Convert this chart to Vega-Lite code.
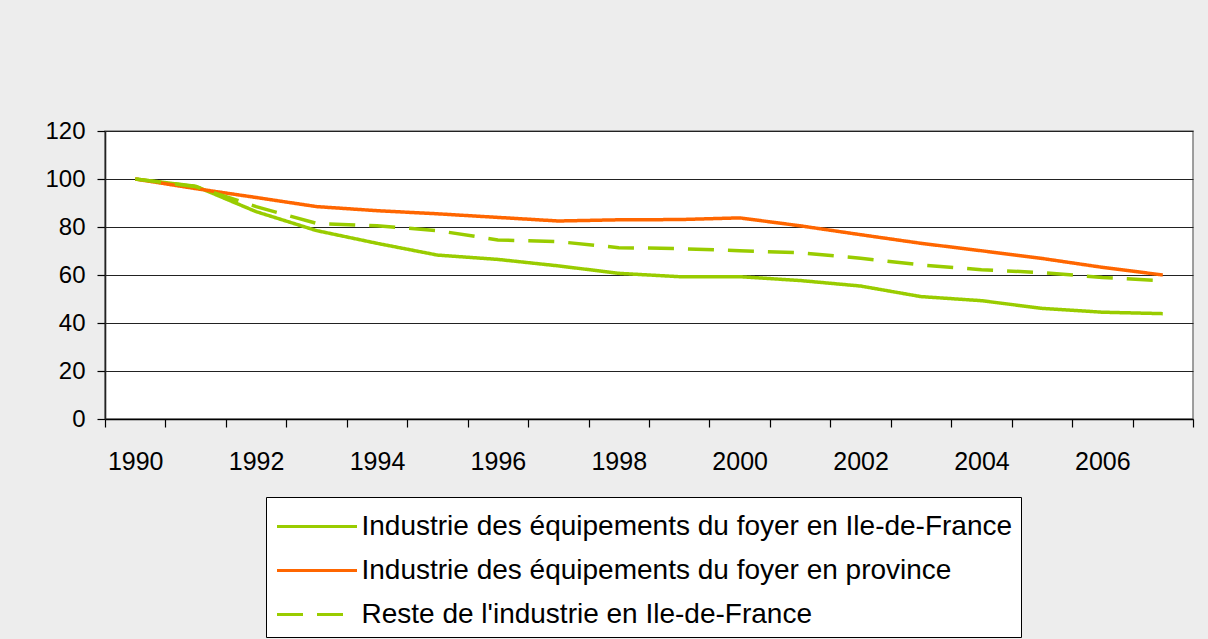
{
  "$schema": "https://vega.github.io/schema/vega-lite/v6.json",
  "width": 1088,
  "height": 288,
  "autosize": {"type": "none"},
  "padding": {"left": 105, "top": 131, "right": 15, "bottom": 220},
  "background": "#EDEDED",
  "config": {
    "font": "Liberation Sans",
    "view": {"fill": "white", "stroke": "#808080", "strokeWidth": 1.5}
  },
  "data": {
    "values": [
      {"annee": 1990, "serie": "Industrie des équipements du foyer en Ile-de-France", "indice": 100},
      {"annee": 1991, "serie": "Industrie des équipements du foyer en Ile-de-France", "indice": 97},
      {"annee": 1992, "serie": "Industrie des équipements du foyer en Ile-de-France", "indice": 86.4},
      {"annee": 1993, "serie": "Industrie des équipements du foyer en Ile-de-France", "indice": 78.5},
      {"annee": 1994, "serie": "Industrie des équipements du foyer en Ile-de-France", "indice": 73.2},
      {"annee": 1995, "serie": "Industrie des équipements du foyer en Ile-de-France", "indice": 68.3},
      {"annee": 1996, "serie": "Industrie des équipements du foyer en Ile-de-France", "indice": 66.5},
      {"annee": 1997, "serie": "Industrie des équipements du foyer en Ile-de-France", "indice": 63.8},
      {"annee": 1998, "serie": "Industrie des équipements du foyer en Ile-de-France", "indice": 60.7},
      {"annee": 1999, "serie": "Industrie des équipements du foyer en Ile-de-France", "indice": 59.3},
      {"annee": 2000, "serie": "Industrie des équipements du foyer en Ile-de-France", "indice": 59.3},
      {"annee": 2001, "serie": "Industrie des équipements du foyer en Ile-de-France", "indice": 57.7},
      {"annee": 2002, "serie": "Industrie des équipements du foyer en Ile-de-France", "indice": 55.4},
      {"annee": 2003, "serie": "Industrie des équipements du foyer en Ile-de-France", "indice": 51},
      {"annee": 2004, "serie": "Industrie des équipements du foyer en Ile-de-France", "indice": 49.3},
      {"annee": 2005, "serie": "Industrie des équipements du foyer en Ile-de-France", "indice": 46.1},
      {"annee": 2006, "serie": "Industrie des équipements du foyer en Ile-de-France", "indice": 44.5},
      {"annee": 2007, "serie": "Industrie des équipements du foyer en Ile-de-France", "indice": 43.9},
      {"annee": 1990, "serie": "Industrie des équipements du foyer en province", "indice": 100},
      {"annee": 1991, "serie": "Industrie des équipements du foyer en province", "indice": 96},
      {"annee": 1992, "serie": "Industrie des équipements du foyer en province", "indice": 92.3},
      {"annee": 1993, "serie": "Industrie des équipements du foyer en province", "indice": 88.5},
      {"annee": 1994, "serie": "Industrie des équipements du foyer en province", "indice": 86.8},
      {"annee": 1995, "serie": "Industrie des équipements du foyer en province", "indice": 85.5},
      {"annee": 1996, "serie": "Industrie des équipements du foyer en province", "indice": 84},
      {"annee": 1997, "serie": "Industrie des équipements du foyer en province", "indice": 82.5},
      {"annee": 1998, "serie": "Industrie des équipements du foyer en province", "indice": 83},
      {"annee": 1999, "serie": "Industrie des équipements du foyer en province", "indice": 83.1},
      {"annee": 2000, "serie": "Industrie des équipements du foyer en province", "indice": 83.8},
      {"annee": 2001, "serie": "Industrie des équipements du foyer en province", "indice": 80.5},
      {"annee": 2002, "serie": "Industrie des équipements du foyer en province", "indice": 76.8},
      {"annee": 2003, "serie": "Industrie des équipements du foyer en province", "indice": 73.2},
      {"annee": 2004, "serie": "Industrie des équipements du foyer en province", "indice": 70.1},
      {"annee": 2005, "serie": "Industrie des équipements du foyer en province", "indice": 66.9},
      {"annee": 2006, "serie": "Industrie des équipements du foyer en province", "indice": 63.2},
      {"annee": 2007, "serie": "Industrie des équipements du foyer en province", "indice": 60},
      {"annee": 1990, "serie": "Reste de l'industrie en Ile-de-France", "indice": 100},
      {"annee": 1991, "serie": "Reste de l'industrie en Ile-de-France", "indice": 96.8},
      {"annee": 1992, "serie": "Reste de l'industrie en Ile-de-France", "indice": 88.5},
      {"annee": 1993, "serie": "Reste de l'industrie en Ile-de-France", "indice": 81.5},
      {"annee": 1994, "serie": "Reste de l'industrie en Ile-de-France", "indice": 80.5},
      {"annee": 1995, "serie": "Reste de l'industrie en Ile-de-France", "indice": 78.5},
      {"annee": 1996, "serie": "Reste de l'industrie en Ile-de-France", "indice": 74.6},
      {"annee": 1997, "serie": "Reste de l'industrie en Ile-de-France", "indice": 73.9},
      {"annee": 1998, "serie": "Reste de l'industrie en Ile-de-France", "indice": 71.4},
      {"annee": 1999, "serie": "Reste de l'industrie en Ile-de-France", "indice": 71},
      {"annee": 2000, "serie": "Reste de l'industrie en Ile-de-France", "indice": 70.1},
      {"annee": 2001, "serie": "Reste de l'industrie en Ile-de-France", "indice": 69.3},
      {"annee": 2002, "serie": "Reste de l'industrie en Ile-de-France", "indice": 67},
      {"annee": 2003, "serie": "Reste de l'industrie en Ile-de-France", "indice": 64.2},
      {"annee": 2004, "serie": "Reste de l'industrie en Ile-de-France", "indice": 62.2},
      {"annee": 2005, "serie": "Reste de l'industrie en Ile-de-France", "indice": 61},
      {"annee": 2006, "serie": "Reste de l'industrie en Ile-de-France", "indice": 59},
      {"annee": 2007, "serie": "Reste de l'industrie en Ile-de-France", "indice": 57.6}
    ]
  },
  "mark": {"type": "line", "strokeWidth": 3.5, "strokeCap": "butt"},
  "encoding": {
    "x": {
      "field": "annee",
      "type": "ordinal",
      "bandPosition": 0.5,
      "scale": {"type": "band", "paddingInner": 0, "paddingOuter": 0},
      "axis": {
        "title": null,
        "tickBand": "extent",
        "grid": false,
        "labelAngle": 0,
        "labelFontSize": 25,
        "labelColor": "#000",
        "labelPadding": 22,
        "labelExpr": "datum.value % 2 == 0 ? datum.label : ''",
        "tickSize": 8,
        "tickColor": "#000",
        "tickWidth": 1.2,
        "domainColor": "#000",
        "domainWidth": 1.5
      }
    },
    "y": {
      "field": "indice",
      "type": "quantitative",
      "scale": {"domain": [0, 120], "nice": false, "zero": true},
      "axis": {
        "title": null,
        "values": [0, 20, 40, 60, 80, 100, 120],
        "labelFontSize": 24,
        "labelColor": "#000",
        "labelPadding": 12,
        "tickSize": 8,
        "tickColor": "#000",
        "tickWidth": 1.2,
        "domainColor": "#222",
        "domainWidth": 1.6,
        "grid": true,
        "gridColor": "#222",
        "gridWidth": 1.2
      }
    },
    "color": {
      "field": "serie",
      "type": "nominal",
      "scale": {
        "domain": ["Industrie des équipements du foyer en Ile-de-France", "Industrie des équipements du foyer en province", "Reste de l'industrie en Ile-de-France"],
        "range": ["#99CC00", "#FF6600", "#99CC00"]
      },
      "legend": {
        "title": null,
        "orient": "none",
        "legendX": 161,
        "legendY": 366,
        "symbolType": "M-2,0H2",
        "symbolSize": 1600,
        "symbolStrokeWidth": 3,
        "symbolOffset": 21.5,
        "labelOffset": 23,
        "labelFontSize": 28,
        "labelColor": "#000",
        "labelLimit": 1000,
        "padding": 8,
        "rowPadding": 8,
        "fillColor": "white",
        "strokeColor": "#000"
      }
    },
    "strokeDash": {
      "field": "serie",
      "type": "nominal",
      "scale": {
        "domain": ["Industrie des équipements du foyer en Ile-de-France", "Industrie des équipements du foyer en province", "Reste de l'industrie en Ile-de-France"],
        "range": [[1, 0], [1, 0], [26, 14]]
      }
    }
  }
}
